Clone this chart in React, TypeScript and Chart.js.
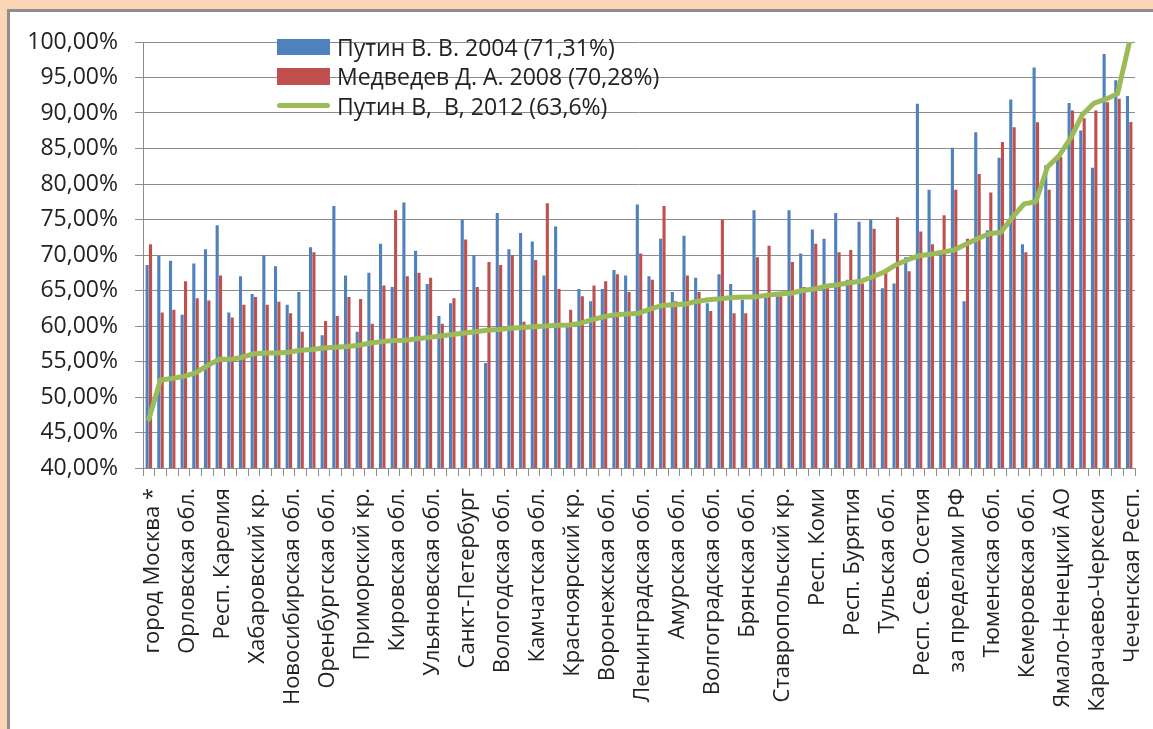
import React, { useEffect, useRef } from "react";
import { Chart, registerables } from "chart.js";

Chart.register(...registerables);

// 85 regions, sorted by 2012 result; only every third label is printed on the axis
const categories: string[] = [
  "город Москва *", "", "", "Орловская обл.", "", "", "Респ. Карелия", "", "",
  "Хабаровский кр.", "", "", "Новосибирская обл.", "", "", "Оренбургская обл.", "", "",
  "Приморский кр.", "", "", "Кировская обл.", "", "", "Ульяновская обл.", "", "",
  "Санкт-Петербург", "", "", "Вологодская обл.", "", "", "Камчатская обл.", "", "",
  "Красноярский кр.", "", "", "Воронежская обл.", "", "", "Ленинградская обл.", "", "",
  "Амурская обл.", "", "", "Волгоградская обл.", "", "", "Брянская обл.", "", "",
  "Ставропольский кр.", "", "", "Респ. Коми", "", "", "Респ. Бурятия", "", "",
  "Тульская обл.", "", "", "Респ. Сев. Осетия", "", "", "за пределами РФ", "", "",
  "Тюменская обл.", "", "", "Кемеровская обл.", "", "", "Ямало-Ненецкий АО", "", "",
  "Карачаево-Черкесия", "", "", "Чеченская Респ.",
];

const putin2004: number[] = [
  68.6, 69.9, 69.2, 61.6, 68.8, 70.8, 74.2, 61.9, 67.0, 64.5,
  70.0, 68.4, 63.0, 64.8, 71.1, 58.7, 76.9, 67.1, 59.2, 67.5,
  71.6, 65.5, 77.4, 70.6, 65.9, 61.4, 63.2, 75.0, 70.0, 54.8,
  75.9, 70.8, 73.1, 71.9, 67.1, 74.0, 60.0, 65.2, 63.5, 65.2,
  67.9, 67.1, 77.1, 67.0, 72.3, 64.8, 72.7, 66.8, 63.2, 67.3,
  65.9, 63.7, 76.3, 64.0, 64.2, 76.3, 70.2, 73.6, 72.3, 75.9,
  66.5, 74.7, 75.0, 65.3, 66.0, 69.7, 91.3, 79.2, 70.3, 85.1,
  63.5, 87.3, 73.5, 83.7, 91.9, 71.5, 96.4, 82.6, 83.7, 91.4,
  87.55, 82.3, 98.3, 94.6, 92.4,
];

const medvedev2008: number[] = [
  71.5, 61.9, 62.3, 66.3, 63.9, 63.6, 67.1, 61.2, 63.0, 64.1,
  63.0, 63.4, 61.8, 59.2, 70.4, 60.7, 61.4, 64.1, 63.8, 60.3,
  65.7, 76.3, 67.0, 67.5, 66.8, 60.3, 63.9, 72.2, 65.5, 69.0,
  68.6, 70.0, 60.6, 69.3, 77.3, 65.2, 62.3, 64.2, 65.7, 66.3,
  67.3, 64.8, 70.2, 66.5, 76.9, 63.5, 67.1, 64.8, 62.1, 75.0,
  61.8, 61.8, 69.7, 71.3, 64.2, 69.0, 65.5, 71.6, 65.5, 70.4,
  70.7, 66.0, 73.7, 67.5, 75.3, 67.7, 73.3, 71.5, 75.6, 79.2,
  72.3, 81.4, 78.8, 85.9, 88.0, 70.4, 88.7, 79.2, 83.8, 90.35,
  89.25, 90.35, 91.5, 92.0, 88.75,
];

const putin2012: number[] = [
  46.9, 52.4, 52.6, 52.9, 53.4, 54.4, 55.3, 55.3, 55.6, 56.1,
  56.2, 56.2, 56.3, 56.6, 56.7, 56.9, 57.0, 57.1, 57.3, 57.6,
  57.8, 57.95, 58.0, 58.2, 58.4, 58.6, 58.8, 59.0, 59.2, 59.4,
  59.5, 59.7, 59.8, 59.9, 60.0, 60.1, 60.15, 60.4, 60.9, 61.3,
  61.6, 61.7, 61.8, 62.4, 62.9, 63.0, 63.1, 63.5, 63.7, 63.85,
  64.0, 64.1, 64.1, 64.35, 64.5, 64.6, 65.0, 65.2, 65.6, 65.8,
  66.1, 66.3, 66.9, 67.6, 68.6, 69.3, 69.9, 70.1, 70.4, 70.7,
  71.5, 72.3, 73.0, 73.2, 75.3, 77.2, 77.5, 82.4, 84.0, 86.5,
  89.8, 91.4, 91.95, 92.7, 99.8,
];

const seriesLabels: string[] = [
  "Путин В. В. 2004 (71,31%)",
  "Медведев Д. А. 2008 (70,28%)",
  "Путин В,  В, 2012 (63,6%)",
];
const seriesColors: string[] = ["#4F81BD", "#C0504D", "#9BBB59"];

const FONT = "'Open Sans', 'DejaVu Sans', sans-serif";
const TEXT = "#222222";
const GRID = "#8C8C8C";

export default function App() {
  const canvasRef = useRef<HTMLCanvasElement | null>(null);

  useEffect(() => {
    const canvas = canvasRef.current;
    if (!canvas) return;
    const chart = new Chart(canvas, {
      type: "bar",
      data: {
        labels: categories,
        datasets: [
          {
            type: "line",
            label: seriesLabels[2],
            data: putin2012,
            borderColor: seriesColors[2],
            backgroundColor: seriesColors[2],
            borderWidth: 5,
            pointRadius: 0,
            tension: 0,
            fill: false,
            order: 0,
            borderJoinStyle: "round",
            borderCapStyle: "round",
          } as any,
          {
            type: "bar",
            label: seriesLabels[0],
            data: putin2004,
            backgroundColor: seriesColors[0],
            borderWidth: 0,
            categoryPercentage: 0.58,
            barPercentage: 0.92,
            order: 1,
          },
          {
            type: "bar",
            label: seriesLabels[1],
            data: medvedev2008,
            backgroundColor: seriesColors[1],
            borderWidth: 0,
            categoryPercentage: 0.58,
            barPercentage: 0.92,
            order: 1,
          },
        ],
      },
      options: {
        responsive: false,
        animation: false,
        devicePixelRatio: 1,
        layout: { padding: { left: 0, top: 42, right: 18, bottom: 0 } },
        plugins: {
          legend: { display: false },
          tooltip: { enabled: false },
          title: { display: false },
        },
        scales: {
          x: {
            type: "category",
            offset: true,
            grid: {
              offset: true,
              drawOnChartArea: false,
              drawTicks: true,
              tickLength: 8,
              color: GRID,
            },
            border: { display: true, color: GRID, width: 1 },
            ticks: {
              autoSkip: false,
              maxRotation: 90,
              minRotation: 90,
              padding: 12,
              labelOffset: 4,
              color: TEXT,
              font: { family: FONT, size: 22 },
              callback: (_v: any, i: number) => categories[i],
            },
            afterFit: (scale: any) => {
              scale.height = 261;
              scale.paddingLeft = 0;
              scale.paddingRight = 0;
            },
          },
          y: {
            min: 40,
            max: 100,
            ticks: {
              stepSize: 5,
              padding: 17,
              color: TEXT,
              font: { family: FONT, size: 23 },
              callback: (v: any) => Number(v).toFixed(2).replace(".", ",") + "%",
            },
            grid: { color: GRID, lineWidth: 1, drawTicks: true, tickLength: 8 },
            border: { display: true, color: GRID, width: 1 },
            afterFit: (scale: any) => {
              scale.width = 143;
              scale.paddingTop = 0;
              scale.paddingBottom = 0;
            },
          },
        },
      },
    });
    return () => chart.destroy();
  }, []);

  const rowCenters = [47, 76.3, 105.5];

  return (
    <div
      style={{
        position: "fixed",
        left: 0,
        top: 0,
        width: 1153,
        height: 729,
        background: "#FCD5B4",
        overflow: "hidden",
      }}
    >
      <div
        style={{
          position: "absolute",
          left: 7,
          top: 9,
          width: 1160,
          height: 740,
          background: "#ffffff",
          borderLeft: "3px solid #8E8E8E",
          borderTop: "3px solid #8E8E8E",
        }}
      />
      <canvas
        ref={canvasRef}
        width={1153}
        height={729}
        style={{ position: "absolute", left: 0, top: 0, width: 1153, height: 729 }}
      />
      {seriesLabels.map((lab, i) => (
        <div
          key={i}
          style={{
            position: "absolute",
            left: 277,
            top: rowCenters[i] - 15,
            height: 30,
            display: "flex",
            alignItems: "center",
            whiteSpace: "pre",
            fontFamily: FONT,
            fontSize: 23,
            color: TEXT,
          }}
        >
          <div
            style={{
              width: 53,
              height: i === 2 ? 5 : 16.7,
              background: seriesColors[i],
              borderRadius: i === 2 ? 2.5 : 0,
              marginRight: 7,
              flex: "none",
            }}
          />
          <span style={{ lineHeight: "30px" }}>{lab}</span>
        </div>
      ))}
    </div>
  );
}
